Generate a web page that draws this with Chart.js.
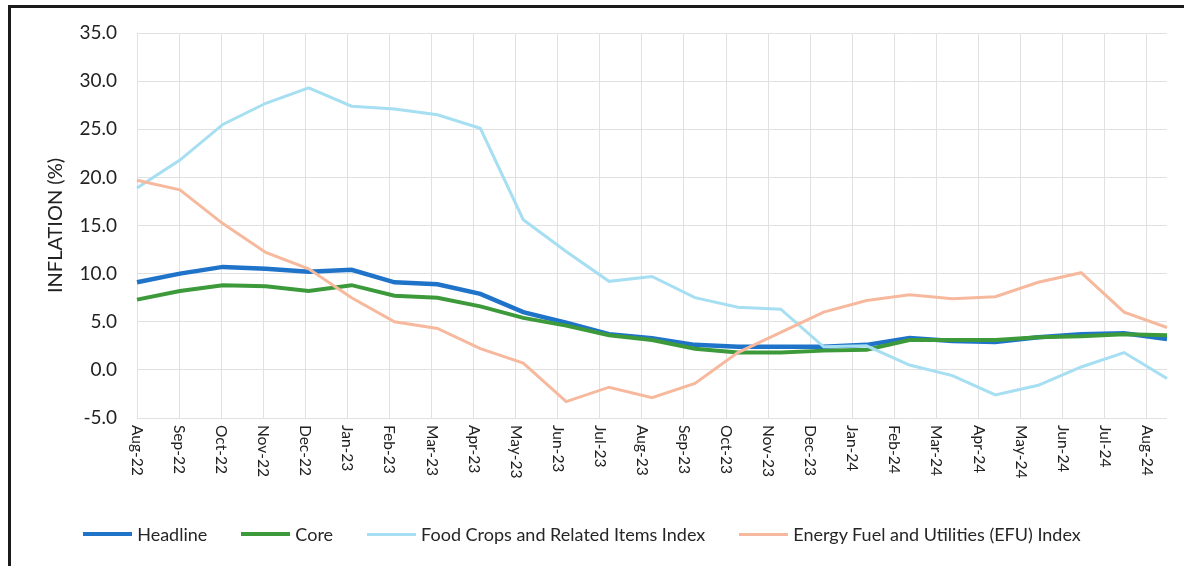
<!DOCTYPE html>
<html>
<head>
<meta charset="utf-8">
<script src="https://cdn.jsdelivr.net/npm/chart.js@4.4.1/dist/chart.umd.min.js"></script>
<style>
html,body{margin:0;padding:0;background:#fff;overflow:hidden;width:1184px;height:566px;}
#wrap{position:absolute;left:0;top:0;width:1184px;height:566px;}
#c{position:absolute;left:0;top:0;}
#frame{position:absolute;left:8px;top:5px;width:1300px;height:700px;border-left:3px solid #1b1b1b;border-top:3px solid #1b1b1b;pointer-events:none;}
#legend{position:absolute;left:0;top:523px;width:1184px;display:flex;justify-content:center;padding-right:20px;box-sizing:border-box;font-family:Lato, sans-serif;font-size:18px;line-height:22px;color:#262626;}
.item{display:flex;align-items:center;margin:0 17px;}
.swatch{width:49px;margin-right:5px;}
</style>
</head>
<body>
<div id="wrap">
  <canvas id="c" width="1184" height="566"></canvas>
  <div id="frame"></div>
  <div id="legend"></div>
</div>
<script>
// ---- data ----
const months = ['Aug-22','Sep-22','Oct-22','Nov-22','Dec-22','Jan-23','Feb-23','Mar-23','Apr-23','May-23','Jun-23','Jul-23','Aug-23','Sep-23','Oct-23','Nov-23','Dec-23','Jan-24','Feb-24','Mar-24','Apr-24','May-24','Jun-24','Jul-24','Aug-24'];
const headline = [9.1,10.0,10.7,10.5,10.2,10.4,9.1,8.9,7.9,6.0,4.9,3.7,3.3,2.6,2.4,2.4,2.4,2.6,3.3,3.0,2.9,3.4,3.7,3.8,3.2];
const core     = [7.3,8.2,8.8,8.7,8.2,8.8,7.7,7.5,6.6,5.4,4.6,3.6,3.1,2.2,1.8,1.8,2.0,2.1,3.1,3.1,3.1,3.4,3.5,3.7,3.6];
const foodCrops= [18.9,21.8,25.5,27.7,29.3,27.4,27.1,26.5,25.1,15.6,12.3,9.2,9.7,7.5,6.5,6.3,2.4,2.5,0.5,-0.6,-2.6,-1.6,0.3,1.8,-0.9];
const efu      = [19.7,18.7,15.2,12.2,10.5,7.5,5.0,4.3,2.2,0.7,-3.3,-1.8,-2.9,-1.4,1.8,3.9,6.0,7.2,7.8,7.4,7.6,9.1,10.1,6.0,4.4];
const seriesNames = ['Headline','Core','Food Crops and Related Items Index','Energy Fuel and Utilities (EFU) Index'];
const yTicks = {min:-5, max:35, step:5};
// In the reference the label/grid axis is slightly narrower than the line span
const labelAxisMax = 24.48;

const colors = ['#1f74c9','#3d9a3b','#a6def2','#f7b99d'];
const widths = [4.5,4,3,3];
const seriesData = [headline, core, foodCrops, efu];

const datasets = seriesData.map((d,i)=>({
  label: seriesNames[i],
  data: d,
  borderColor: colors[i],
  backgroundColor: colors[i],
  borderWidth: widths[i],
  pointRadius: 0,
  tension: 0,
  fill: false,
  xAxisID: 'x',
  yAxisID: 'y',
  order: 4 - i
}));

const xLabelPlugin = {
  id: 'xLabels',
  afterDraw(chart){
    const s = chart.scales.xl;
    const ctx = chart.ctx;
    const top = chart.chartArea.bottom + 7;
    ctx.save();
    ctx.font = '15.5px Lato, sans-serif';
    ctx.fillStyle = '#222';
    ctx.textAlign = 'left';
    ctx.textBaseline = 'middle';
    months.forEach((m,k)=>{
      const x = s.getPixelForValue(k);
      ctx.save();
      ctx.translate(x, top);
      ctx.rotate(Math.PI/2);
      ctx.fillText(m, 0, 0);
      ctx.restore();
    });
    ctx.restore();
  }
};

const chart = new Chart(document.getElementById('c'), {
  type: 'line',
  data: { labels: months, datasets },
  options: {
    responsive: false,
    animation: false,
    devicePixelRatio: 1,
    layout: { padding: { top: 33, right: 17, left: 0, bottom: 0 } },
    plugins: { legend: { display: false }, tooltip: { enabled: false } },
    scales: {
      x: { type: 'category', display: false, offset: false },
      xl: {
        type: 'linear', axis: 'x', position: 'bottom',
        min: 0, max: labelAxisMax,
        grid: { color: '#e1e1e1', lineWidth: 1, drawTicks: false },
        border: { display: false },
        ticks: { stepSize: 1, display: false, includeBounds: false },
        afterFit(scale){ scale.height = 148; }
      },
      y: {
        position: 'left',
        min: yTicks.min, max: yTicks.max,
        grid: { color: '#e1e1e1', lineWidth: 1, drawTicks: false },
        border: { display: false },
        ticks: {
          stepSize: yTicks.step, padding: 20,
          font: { family: 'Lato, sans-serif', size: 19 }, color: '#222',
          callback: v => Number(v).toFixed(1)
        },
        title: {
          display: true, text: 'INFLATION (%)',
          font: { family: 'Lato, sans-serif', size: 20 }, color: '#222',
          padding: { top: 44, bottom: 0 }
        },
        afterFit(scale){ scale.width = 137; }
      }
    }
  },
  plugins: [xLabelPlugin]
});

// HTML legend from the datasets
const leg = document.getElementById('legend');
chart.data.datasets.forEach(ds=>{
  const it = document.createElement('div'); it.className='item';
  const sw = document.createElement('div'); sw.className='swatch';
  sw.style.height = ds.borderWidth + 'px'; sw.style.background = ds.borderColor;
  const tx = document.createElement('span'); tx.textContent = ds.label;
  it.appendChild(sw); it.appendChild(tx); leg.appendChild(it);
});
</script>
</body>
</html>
